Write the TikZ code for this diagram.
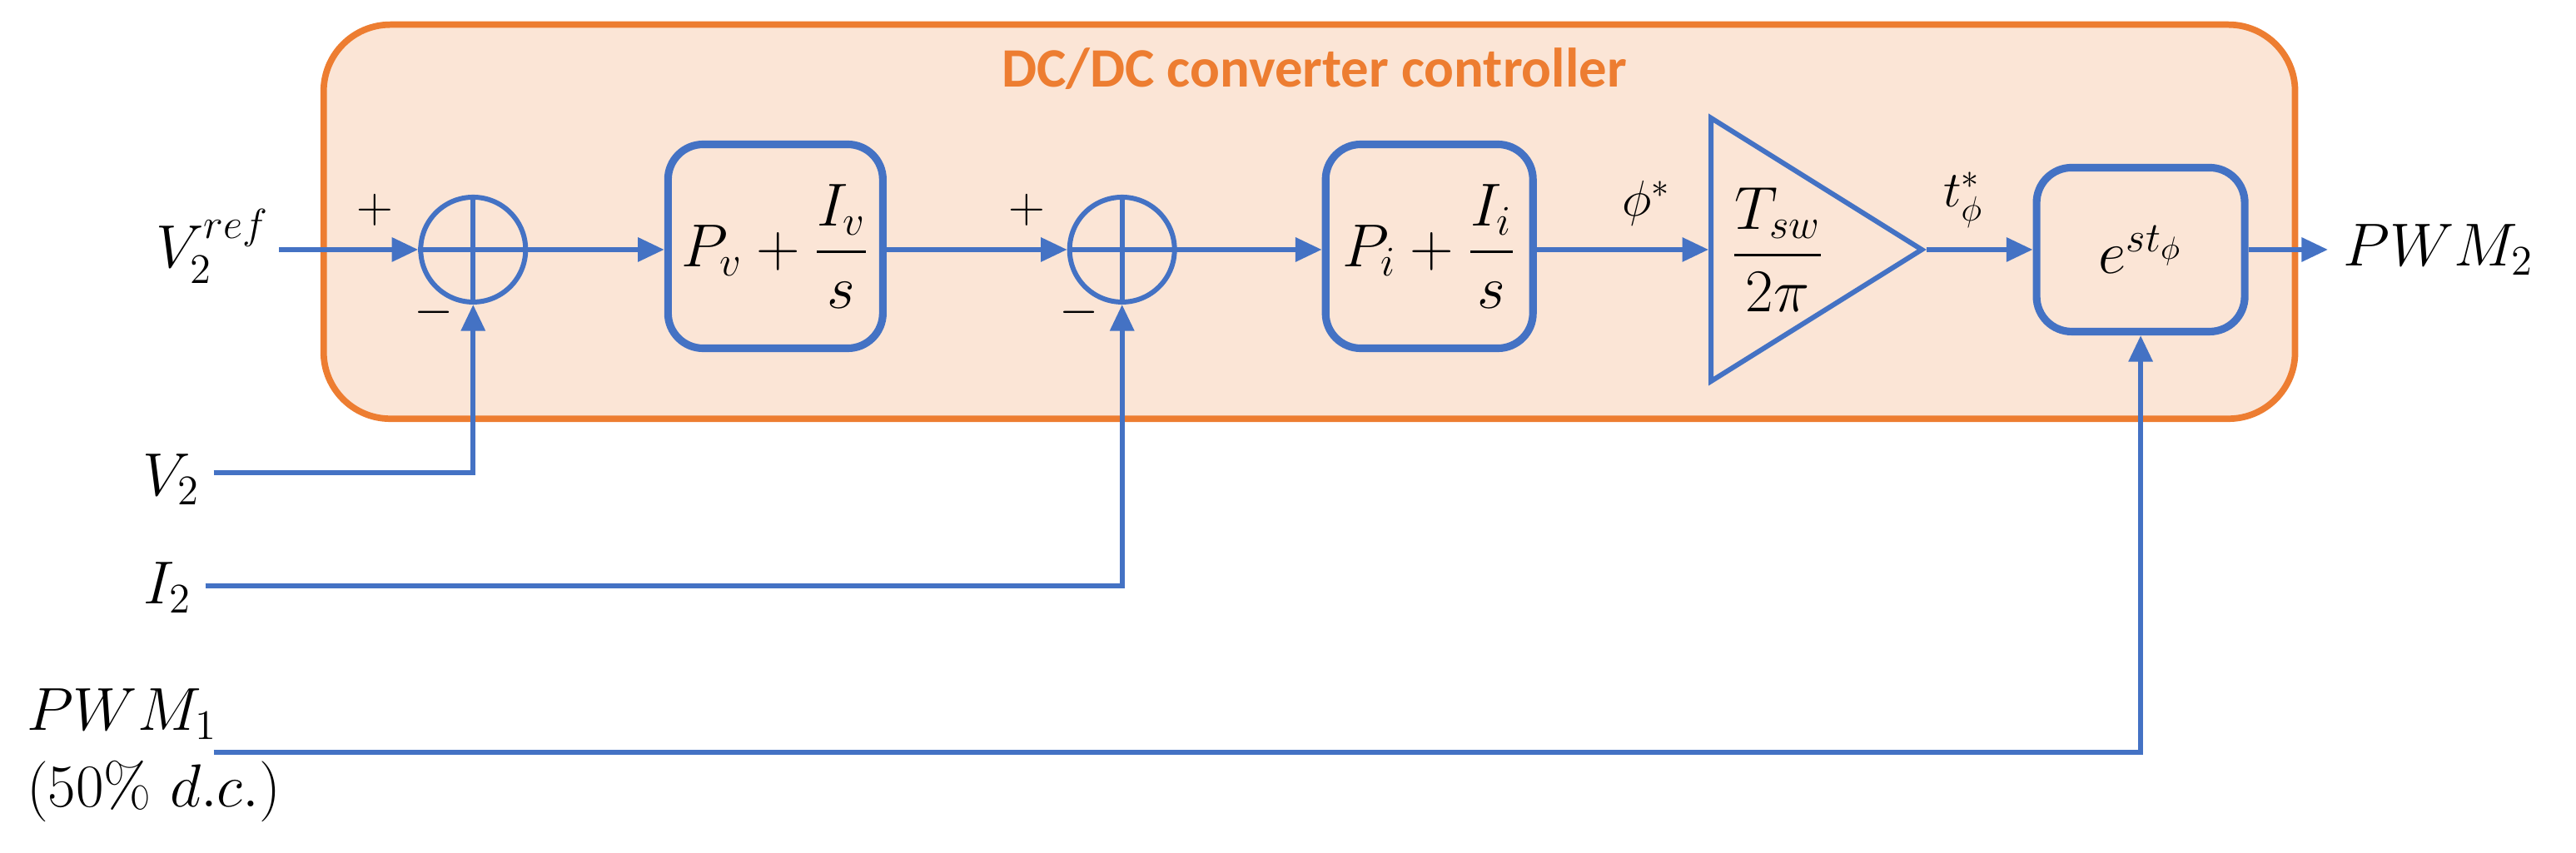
\documentclass[tikz,border=0pt]{standalone}
\usepackage{amsmath}
\usepackage{fontspec}
\setsansfont{Carlito}
\usetikzlibrary{arrows.meta,shapes.geometric}
\definecolor{bl}{HTML}{4472C4}
\definecolor{og}{HTML}{ED7D31}
\definecolor{pe}{HTML}{FBE5D6}
\begin{document}
\begin{tikzpicture}[x=0.01973cm,y=-0.01973cm,
  ln/.style={draw=bl,line width=1.7pt},
  arr/.style={ln,-{Triangle[length=9pt,width=8pt]}},
  blk/.style={draw=bl,line width=2.6pt,rounded corners=12pt},
  sm/.style={circle,draw=bl,line width=1.7pt,minimum size=1.26cm,inner sep=0pt},
  txt/.style={font=\fontsize{21}{25}\selectfont},
  stxt/.style={font=\fontsize{17}{20}\selectfont}]
\useasboundingbox (0,0) rectangle (1568,519);
\draw[draw=og,fill=pe,line width=2.2pt,rounded corners=0.8cm] (197,15) rectangle (1397,255);
\node[font=\sffamily\bfseries\fontsize{19}{22}\selectfont,text=og] (title) at (800,42) {DC/DC converter controller};
\node[sm] (s1) at (288,152) {};
\draw[ln] (s1.north)--(s1.south) (s1.west)--(s1.east);
\node[sm] (s2) at (683,152) {};
\draw[ln] (s2.north)--(s2.south) (s2.west)--(s2.east);
\node[blk,minimum width=2.58cm,minimum height=2.45cm,txt] (b1) at (472,150) {$P_v+\dfrac{I_v}{s}$};
\node[blk,minimum width=2.49cm,minimum height=2.45cm,txt] (b2) at (870,150) {$P_i+\dfrac{I_i}{s}$};
\node[draw=bl,line width=1.7pt,isosceles triangle,isosceles triangle apex angle=64,minimum height=2.53cm,inner sep=0pt,anchor=west] (g) at (1040,152) {};
\node[txt] (gl) at (1082,152) {$\dfrac{T_{sw}}{2\pi}$};
\node[blk,minimum width=2.5cm,minimum height=1.97cm,txt] (b3) at (1303,152) {$e^{st_\phi}$};
\node[txt,anchor=east] (vref) at (170,150) {$V_2^{ref}$};
\node[txt,anchor=east] (v2) at (128,292) {$V_2$};
\node[txt,anchor=east] (i2) at (123,358) {$I_2$};
\node[txt,anchor=west] (pwm1) at (10,435) {$PWM_1$};
\node[txt,anchor=west] (dc) at (10,482) {$(50\%\ d.c.)$};
\node[txt,anchor=west] (pwm2) at (1420,152) {$PWM_2$};
\node[stxt] (p1) at (228,128) {$+$};
\node[stxt] (m1) at (264,190) {$-$};
\node[stxt] (p2) at (625,128) {$+$};
\node[stxt] (m2) at (657,190) {$-$};
\node[stxt] (phi) at (1002,124) {$\phi^*$};
\node[stxt] (tphi) at (1195,122) {$t_\phi^*$};
\coordinate (v2e) at (130,288);
\coordinate (i2e) at (125,357);
\coordinate (pe) at (130,458);
\draw[arr] (vref.east|-s1) -- (s1.west);
\draw[arr] (s1.east) -- (b1.west|-s1);
\draw[arr] (b1.east|-s2) -- (s2.west);
\draw[arr] (s2.east) -- (b2.west|-s2);
\draw[arr] (b2.east|-g) -- (g.west);
\draw[arr] (g.apex) -- (b3.west);
\draw[arr] (b3.east) -- (1417,152);
\draw[arr] (v2e) -| (s1.south);
\draw[arr] (i2e) -| (s2.south);
\draw[arr] (pe) -| (b3.south);
\end{tikzpicture}
\end{document}
